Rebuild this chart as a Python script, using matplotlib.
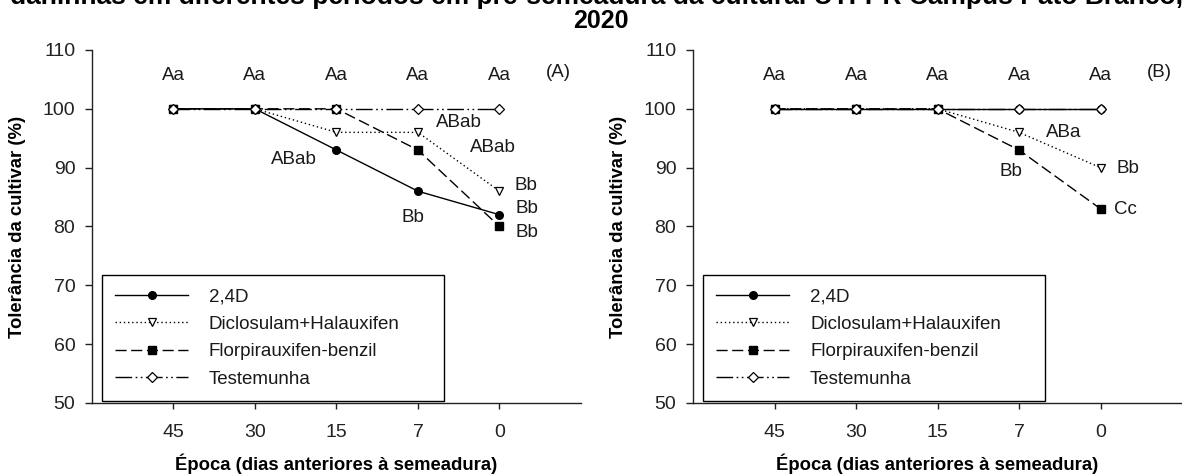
import matplotlib
matplotlib.use('Agg')
from matplotlib import pyplot as plt
import numpy as np

plt.rcParams['font.family'] = ['Liberation Sans', 'DejaVu Sans']

# épocas de aplicação (dias antes da semeadura)
epocas = ['45', '30', '15', '7', '0']
tratamentos = ['2,4D', 'Diclosulam+Halauxifen', 'Florpirauxifen-benzil', 'Testemunha']

# tolerância da cultivar (%) - painel A
tol_a_24d = [100, 100, 93, 86, 82]
tol_a_dicl = [100, 100, 96, 96, 86]
tol_a_florp = [100, 100, 100, 93, 80]
tol_a_test = [100, 100, 100, 100, 100]

# tolerância da cultivar (%) - painel B
tol_b_24d = [100, 100, 100, 100, 100]
tol_b_dicl = [100, 100, 100, 96, 90]
tol_b_florp = [100, 100, 100, 93, 83]
tol_b_test = [100, 100, 100, 100, 100]

letras_topo = ['Aa', 'Aa', 'Aa', 'Aa', 'Aa']
# (letra, tratamento, época)
letras_a = [('ABab', 0, 2), ('Bb', 0, 3), ('ABab', 1, 3), ('ABab', 2, 3),
            ('Bb', 1, 4), ('Bb', 0, 4), ('Bb', 2, 4)]
letras_b = [('ABa', 1, 3), ('Bb', 2, 3), ('Bb', 1, 4), ('Cc', 2, 4)]

# deslocamento de cada letra em relação ao ponto
desloc_a = [(-0.52, -1.7), (-0.06, -4.5), (0.50, 1.7), (0.92, 0.4),
            (0.32, 0.9), (0.34, 1.1), (0.34, -1.1)]
desloc_b = [(0.55, 0.0), (-0.10, -3.7), (0.34, -0.2), (0.31, -0.1)]

estilos = [
    dict(linestyle='-', marker='o', markersize=5.5, markerfacecolor='black',
         markeredgecolor='black'),
    dict(linestyle=(0, (1, 2)), marker='v', markersize=6, markerfacecolor='white',
         markeredgecolor='black', markeredgewidth=0.9),
    dict(linestyle=(0, (8, 3.3)), marker='s', markersize=5.5, markerfacecolor='black',
         markeredgecolor='black'),
    dict(linestyle=(0, (12, 2.5, 1.2, 2.5, 1.2, 2.5)), marker='D', markersize=5.5,
         markerfacecolor='white', markeredgecolor='black', markeredgewidth=0.9),
]

x = np.arange(1, 6)
txt = '#1a1a1a'


def painel(ax, series, letras, desloc, tag):
    for nome, y, est in zip(tratamentos, series, estilos):
        ax.plot(x, y, color='black', linewidth=1.0, label=nome, **est)

    for xi, l in zip(x, letras_topo):
        ax.text(xi, 105.6, l, ha='center', va='center', fontsize=13.5, color=txt)
    for (l, s, i), (dx, dy) in zip(letras, desloc):
        ax.text(x[i] + dx, series[s][i] + dy, l, ha='center', va='center',
                fontsize=13.5, color=txt)
    ax.text(5.72, 106.2, tag, ha='center', va='center', fontsize=13.5, color=txt)

    ax.set_xlim(0, 6)
    ax.set_ylim(50, 110)
    ax.set_xticks(x)
    ax.set_xticklabels(epocas)
    ax.set_yticks(np.arange(50, 111, 10))
    for s in ['top', 'right']:
        ax.spines[s].set_visible(False)
    for s in ['left', 'bottom']:
        ax.spines[s].set_linewidth(1.0)
        ax.spines[s].set_color('#222')
    ax.tick_params(axis='both', labelsize=14, colors='#222', width=1.0)
    ax.tick_params(axis='y', length=5, pad=7)
    ax.tick_params(axis='x', length=4, pad=11)
    ax.set_xlabel('Época (dias anteriores à semeadura)', fontsize=13.3,
                  fontweight='bold', labelpad=9)
    ax.set_ylabel('Tolerância da cultivar (%)', fontsize=13.3, fontweight='bold',
                  labelpad=12)

    leg = ax.legend(loc='lower left', bbox_to_anchor=(0.02, 0.005, 0.70, 0.355),
                    mode='expand', borderaxespad=0, fontsize=13.5, handlelength=3.9,
                    handletextpad=1.1, labelspacing=0.55, borderpad=0.72,
                    fancybox=False, framealpha=1)
    leg.get_frame().set_edgecolor('black')
    leg.get_frame().set_linewidth(1.0)
    for t in leg.get_texts():
        t.set_color(txt)


fig = plt.figure(figsize=(11.82, 4.76), dpi=100)
ax1 = fig.add_axes([0.0778, 0.1534, 0.4137, 0.7416])
ax2 = fig.add_axes([0.5863, 0.1534, 0.4137, 0.7416])

painel(ax1, [tol_a_24d, tol_a_dicl, tol_a_florp, tol_a_test], letras_a, desloc_a, '(A)')
painel(ax2, [tol_b_24d, tol_b_dicl, tol_b_florp, tol_b_test], letras_b, desloc_b, '(B)')

fig.text(10 / 1182, 1 - 4 / 476,
         'daninhas em diferentes períodos em pré-semeadura da cultura. UTFPR Campus Pato Branco,',
         ha='left', va='baseline', fontsize=19, fontweight='bold')
fig.text(0.508, 1 - 28.5 / 476, '2020', ha='center', va='baseline', fontsize=18,
         fontweight='bold')

fig.savefig('out.png', dpi=100)
